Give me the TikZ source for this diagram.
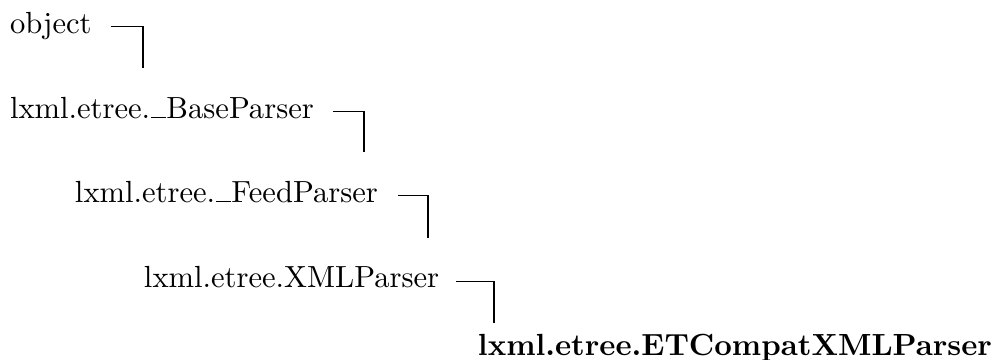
\documentclass[tikz,border=0pt]{standalone}
\newcommand\myusc{\leavevmode\kern.03em\vbox{\hrule height.45pt width.5em}}
\begin{document}
\begin{tikzpicture}[x=0.327pt,y=-0.327pt,
  cls/.style={anchor=base west,inner sep=0pt,outer sep=0pt},
  link/.style={line width=0.4pt}]
\useasboundingbox (0,0) rectangle (1002,360);
\node[cls] (obj) at (10,33) {object};
\node[cls] (base) at (10,118) {lxml.etree.\myusc BaseParser};
\node[cls] (feed) at (75,202) {lxml.etree.\myusc FeedParser};
\node[cls] (xml) at (144,287) {lxml.etree.XMLParser};
\node[cls] (et) at (478,355) {\bfseries lxml.etree.ETCompatXMLParser};
\coordinate (c1) at (143,68);
\coordinate (c2) at (364,152);
\coordinate (c3) at (428,238);
\coordinate (c4) at (494,323);
\draw[link] ([xshift=6.2pt,yshift=2.1pt]obj.base east) -| (c1);
\draw[link] ([xshift=6.2pt,yshift=2pt]base.base east) -| (c2);
\draw[link] ([xshift=6.6pt,yshift=2pt]feed.base east) -| (c3);
\draw[link] ([xshift=5.6pt,yshift=1.8pt]xml.base east) -| (c4);
\end{tikzpicture}
\end{document}
